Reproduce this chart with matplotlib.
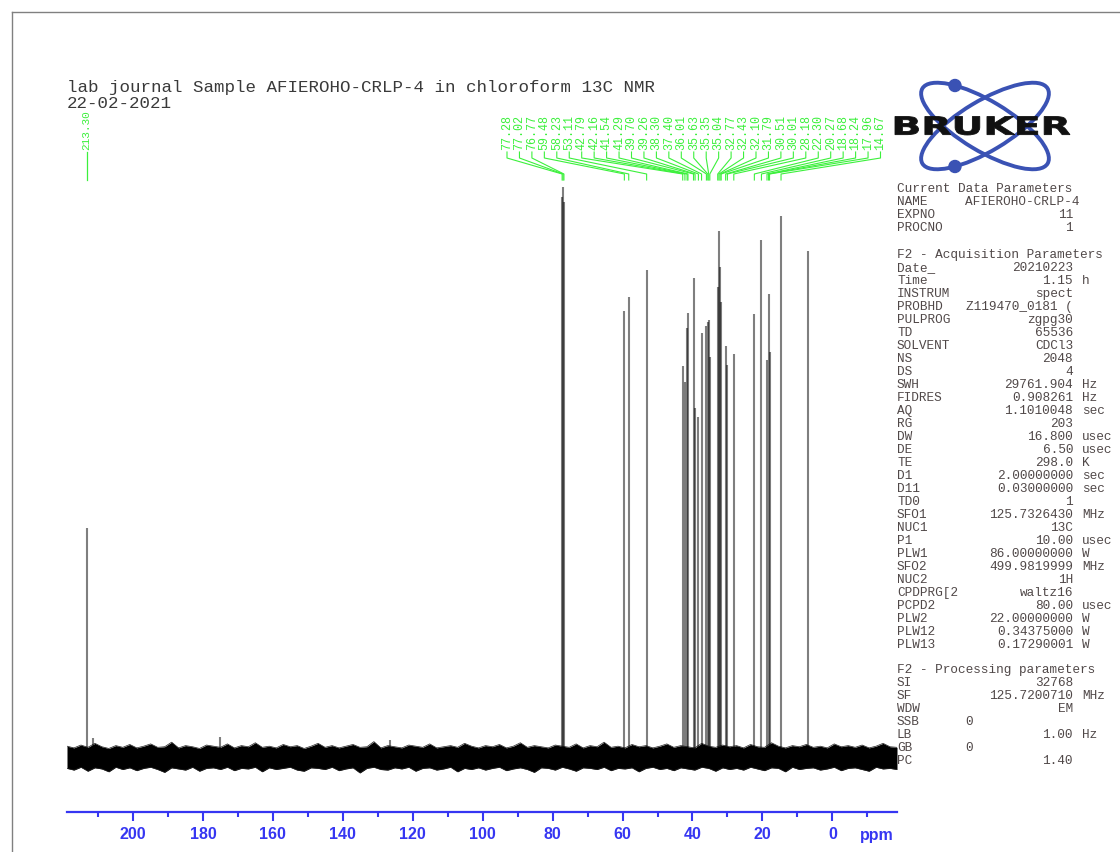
import numpy as np
import matplotlib
matplotlib.use("Agg")
import matplotlib.pyplot as plt
from matplotlib.patches import Ellipse, PathPatch
from matplotlib.textpath import TextPath
from matplotlib.font_manager import FontProperties
from matplotlib.transforms import Affine2D
from matplotlib.ticker import MultipleLocator

W, H = 1120, 852

title_lines = ["lab journal Sample AFIEROHO-CRLP-4 in chloroform 13C NMR", "22-02-2021"]

# picked peaks (ppm) and their heights, 77.02 = 100
peak_ppm = [213.30, 77.28, 77.02, 76.77, 59.48, 58.23, 53.11, 42.79, 42.16, 41.54, 41.29,
            39.70, 39.26, 38.30, 37.40, 36.01, 35.63, 35.35, 35.04, 32.77, 32.43, 32.10,
            31.79, 30.51, 30.01, 28.18, 22.30, 20.27, 18.68, 18.24, 17.96, 14.67]
peak_int = [40.2, 98.2, 100.0, 97.4, 78.2, 80.7, 85.4, 68.6, 65.8, 75.3, 77.9,
            84.0, 61.2, 59.6, 74.4, 75.6, 76.3, 76.7, 70.2, 82.5, 92.3, 86.0,
            79.8, 72.1, 68.8, 70.7, 77.7, 90.7, 69.6, 81.2, 71.1, 94.9]

# peaks without a label
extra_ppm = [6.90, 211.6, 175.1, 126.5]
extra_int = [88.8, 3.3, 3.5, 3.0]

# baseline noise envelope, read across the full window
noise_hi = [1.9, 1.6, 2.1, 1.7, 2.4, 1.8, 1.5, 2.0, 1.7, 2.2, 1.6, 1.9,
            2.3, 1.7, 1.8, 2.6, 1.6, 2.0, 1.8, 1.5, 2.1, 1.9, 1.7, 2.3,
            1.6, 2.0, 1.8, 2.5, 1.7, 1.9, 1.6, 2.2, 1.8, 2.0, 1.5, 1.9,
            2.4, 1.7, 2.0, 1.6, 1.9, 2.2, 1.7, 1.8, 2.7, 1.6, 2.0, 1.8,
            1.6, 2.1, 1.9, 1.7, 2.3, 1.6, 1.8, 2.0, 1.7, 2.4, 1.9, 1.6,
            2.0, 1.8, 2.2, 1.6, 1.9, 2.5, 1.7, 2.0, 1.8, 1.6, 2.1, 1.9,
            1.7, 2.3, 1.6, 2.0, 1.8, 2.6, 1.7, 1.9, 1.6, 2.2, 1.8, 2.0,
            1.6, 1.9, 2.3, 1.7, 2.0, 1.8, 1.6, 2.4, 1.9, 1.7, 2.1, 1.8,
            2.0, 1.6, 2.2, 1.8, 1.7, 2.5, 1.9, 1.6, 2.0, 1.8, 2.2, 1.7,
            1.9, 1.6, 2.3, 1.8, 2.0, 1.7, 2.1, 1.6, 1.9, 2.4, 1.8, 1.7]
noise_lo = [-2.0, -2.3, -1.8, -2.5, -1.9, -2.1, -2.6, -1.8, -2.2, -1.9, -2.4, -2.0,
            -1.8, -2.2, -2.7, -1.9, -2.1, -2.3, -1.8, -2.5, -2.0, -1.9, -2.2, -1.8,
            -2.4, -2.0, -2.1, -1.8, -2.6, -1.9, -2.2, -2.0, -1.8, -2.3, -2.5, -1.9,
            -2.0, -2.2, -1.8, -2.4, -2.1, -1.9, -2.8, -2.0, -1.8, -2.2, -2.3, -1.9,
            -2.1, -1.8, -2.5, -2.0, -1.9, -2.3, -2.1, -1.8, -2.6, -2.0, -2.2, -1.9,
            -2.3, -2.0, -1.8, -2.4, -2.1, -1.9, -2.2, -2.7, -1.9, -2.0, -2.3, -1.8,
            -2.1, -2.5, -1.9, -2.0, -2.2, -1.8, -2.4, -2.0, -2.1, -1.9, -2.6, -2.0,
            -1.8, -2.2, -2.0, -2.4, -1.9, -2.1, -2.3, -1.8, -2.0, -2.5, -1.9, -2.2,
            -2.0, -2.3, -1.8, -2.1, -2.4, -1.9, -2.0, -2.6, -1.8, -2.2, -2.0, -1.9,
            -2.3, -2.1, -1.8, -2.4, -2.0, -1.9, -2.2, -2.5, -1.8, -2.1, -2.0, -2.2]

ppm_left, ppm_right = 218.9, -18.5
axis_ticks = [200, 180, 160, 140, 120, 100, 80, 60, 40, 20, 0]

# acquisition / processing parameter panel
current_params = [("NAME", "AFIEROHO-CRLP-4", ""), ("EXPNO", "11", ""), ("PROCNO", "1", "")]
acq_params = [
    ("Date_", "20210223", ""), ("Time", "1.15", "h"), ("INSTRUM", "spect", ""),
    ("PROBHD", "Z119470_0181 (", ""), ("PULPROG", "zgpg30", ""), ("TD", "65536", ""),
    ("SOLVENT", "CDCl3", ""), ("NS", "2048", ""), ("DS", "4", ""),
    ("SWH", "29761.904", "Hz"), ("FIDRES", "0.908261", "Hz"), ("AQ", "1.1010048", "sec"),
    ("RG", "203", ""), ("DW", "16.800", "usec"), ("DE", "6.50", "usec"),
    ("TE", "298.0", "K"), ("D1", "2.00000000", "sec"), ("D11", "0.03000000", "sec"),
    ("TD0", "1", ""), ("SFO1", "125.7326430", "MHz"), ("NUC1", "13C", ""),
    ("P1", "10.00", "usec"), ("PLW1", "86.00000000", "W"), ("SFO2", "499.9819999", "MHz"),
    ("NUC2", "1H", ""), ("CPDPRG[2", "waltz16", ""), ("PCPD2", "80.00", "usec"),
    ("PLW2", "22.00000000", "W"), ("PLW12", "0.34375000", "W"), ("PLW13", "0.17290001", "W"),
]
proc_params = [("SI", "32768", ""), ("SF", "125.7200710", "MHz"), ("WDW", "EM", ""),
               ("SSB", "0", "left"), ("LB", "1.00", "Hz"), ("GB", "0", "left"), ("PC", "1.40", "")]

GREEN = "#3cf03c"
BLUE = "#3636f2"
PANEL = "#504848"
MONO = "Liberation Mono"

fig = plt.figure(figsize=(W / 100, H / 100), dpi=100)

# spectrum window in pixel terms: x 67..897, y 180..775, baseline at 757
x0, x1 = 67, 897
ytop, ybot, ybase, pxu = 180, 775, 757, 5.7
ax = fig.add_axes([x0 / W, (H - ybot) / H, (x1 - x0) / W, (ybot - ytop) / H])
ax.set_xlim(ppm_left, ppm_right)
ax.set_ylim((ybase - ybot) / pxu, (ybase - ytop) / pxu)
ax.axis("off")

npts = np.linspace(ppm_left, ppm_right, len(noise_hi))
ax.fill_between(npts, noise_lo, noise_hi, color="black", lw=0)
ax.plot(npts, noise_hi, color="#222222", lw=0.5)
ax.plot(npts, noise_lo, color="#222222", lw=0.5)
ax.vlines(peak_ppm, 0, peak_int, color="black", lw=1.5, alpha=0.5)
ax.vlines(extra_ppm, 0, extra_int, color="black", lw=1.5, alpha=0.5)

# ppm scale
sc = fig.add_axes([x0 / W, (H - 812) / H, (x1 - x0) / W, 1 / H])
sc.set_xlim(ppm_left, ppm_right)
sc.set_yticks([])
for s in ("top", "left", "right"):
    sc.spines[s].set_visible(False)
sc.spines["bottom"].set_color(BLUE)
sc.spines["bottom"].set_linewidth(1.6)
sc.set_xticks(axis_ticks)
sc.xaxis.set_minor_locator(MultipleLocator(10))
sc.tick_params(axis="x", which="major", length=6.5, width=1.5, color=BLUE, pad=4,
               labelcolor=BLUE, labelsize=11.5)
sc.tick_params(axis="x", which="minor", length=3.6, width=1.5, color=BLUE)
for lab in sc.get_xticklabels():
    lab.set_fontweight("bold")
    lab.set_family("Liberation Sans")
sc.patch.set_visible(False)

# overlay in pixel coordinates for text, labels and logo
ov = fig.add_axes([0, 0, 1, 1])
ov.set_xlim(0, W)
ov.set_ylim(H, 0)
ov.axis("off")

# page border
ov.plot([12, W], [12, 12], color="#808080", lw=1)
ov.plot([12, 12], [12, H], color="#808080", lw=1)

ov.text(67, 92, title_lines[0], family=MONO, fontsize=12.6, color="#3a3a3a", va="baseline")
ov.text(67, 108, title_lines[1], family=MONO, fontsize=12.6, color="#3a3a3a", va="baseline")


def ppm_to_px(p):
    return ax.transData.transform((p, 0))[0]


# peak labels: the isolated carbonyl sits straight above its peak, the rest fan out
xp = ppm_to_px(peak_ppm[0])
ov.text(xp, 150, f"{peak_ppm[0]:.2f}", rotation=90, ha="center", va="bottom",
        family=MONO, fontsize=8.0, color=GREEN)
ov.plot([xp, xp], [152, 180], color=GREEN, lw=0.9)
for i, p in enumerate(peak_ppm[1:]):
    lx = 507 + 12.45 * i
    xp = ppm_to_px(p)
    ov.text(lx, 150, f"{p:.2f}", rotation=90, ha="center", va="bottom",
            family=MONO, fontsize=8.4, color=GREEN)
    ov.plot([lx, lx, xp, xp], [152, 158, 174, 180], color=GREEN, lw=0.8)

ov.text(860, 840, "ppm", family="Liberation Sans", fontweight="bold", fontsize=11.5,
        color=BLUE, va="baseline", ha="left")

# logo
LOGO = "#3a52b4"
for ang in (31, -31):
    ov.add_patch(Ellipse((985, 126), 146, 50, angle=ang, fill=False, ec=LOGO, lw=2.8))
t = np.linspace(0, 2 * np.pi, 720)
for ang, target in ((31, (955, 85)), (-31, (955, 167))):
    a = np.radians(ang)
    ex = 985 + 73 * np.cos(t) * np.cos(a) - 25 * np.sin(t) * np.sin(a)
    ey = 126 + 73 * np.cos(t) * np.sin(a) + 25 * np.sin(t) * np.cos(a)
    k = np.argmin((ex - target[0]) ** 2 + (ey - target[1]) ** 2)
    ov.add_patch(Ellipse((ex[k], ey[k]), 12, 12, color=LOGO))

tp = TextPath((0, 0), "BRUKER", size=1, prop=FontProperties(family="DejaVu Sans", weight="bold"))
ext = tp.get_extents()
tr = (Affine2D().translate(-ext.x0, -ext.y0)
      .scale(175 / ext.width, -18.5 / ext.height).translate(895, 135))
ov.add_patch(PathPatch(tr.transform_path(tp), fc="#111111", ec="#111111", lw=0.6, zorder=5))

# parameter panel
PX, VX, UX, LX = 897, 1073, 1082, 965
fs = 9.2


def row(y, name, val, unit):
    ov.text(PX, y, name, family=MONO, fontsize=fs, color=PANEL, va="center")
    if unit == "left":
        ov.text(LX, y, val, family=MONO, fontsize=fs, color=PANEL, va="center")
        return
    ov.text(VX, y, val, family=MONO, fontsize=fs, color=PANEL, va="center", ha="right")
    if unit:
        ov.text(UX, y, unit, family=MONO, fontsize=fs, color=PANEL, va="center")


ov.text(PX, 189, "Current Data Parameters", family=MONO, fontsize=fs, color=PANEL, va="center")
ov.text(PX, 202, "NAME", family=MONO, fontsize=fs, color=PANEL, va="center")
ov.text(LX, 202, current_params[0][1], family=MONO, fontsize=fs, color=PANEL, va="center")
for j, (n, v, u) in enumerate(current_params[1:]):
    row(215 + 13 * j, n, v, u)

ov.text(PX, 255, "F2 - Acquisition Parameters", family=MONO, fontsize=fs, color=PANEL, va="center")
for j, (n, v, u) in enumerate(acq_params):
    row(268 + 13 * j, n, v, u)

ov.text(PX, 670, "F2 - Processing parameters", family=MONO, fontsize=fs, color=PANEL, va="center")
for j, (n, v, u) in enumerate(proc_params):
    row(683 + 13 * j, n, v, u)

fig.savefig("out.png", dpi=100)
